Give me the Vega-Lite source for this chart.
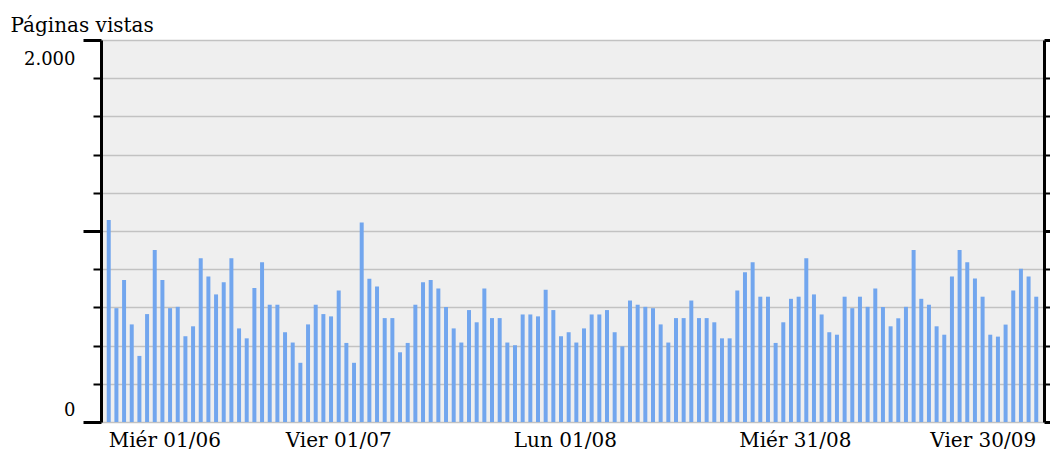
{
  "$schema": "https://vega.github.io/schema/vega-lite/v6.json",
  "autosize": {"type": "none"},
  "padding": {"left": 101, "top": 40, "right": 6, "bottom": 28},
  "width": 943,
  "height": 382,
  "background": "white",
  "config": {"view": {"fill": "#efefef", "stroke": null}},
  "data": {"values": [
    {"d": "2011-06-01", "v": 1057}, {"d": "2011-06-02", "v": 596}, {"d": "2011-06-03", "v": 744}, {"d": "2011-06-04", "v": 511}, {"d": "2011-06-05", "v": 346},
    {"d": "2011-06-06", "v": 565}, {"d": "2011-06-07", "v": 901}, {"d": "2011-06-08", "v": 744}, {"d": "2011-06-09", "v": 596}, {"d": "2011-06-10", "v": 603},
    {"d": "2011-06-11", "v": 449}, {"d": "2011-06-12", "v": 501}, {"d": "2011-06-13", "v": 857}, {"d": "2011-06-14", "v": 762}, {"d": "2011-06-15", "v": 668},
    {"d": "2011-06-16", "v": 732}, {"d": "2011-06-17", "v": 857}, {"d": "2011-06-18", "v": 490}, {"d": "2011-06-19", "v": 438}, {"d": "2011-06-20", "v": 701},
    {"d": "2011-06-21", "v": 837}, {"d": "2011-06-22", "v": 614}, {"d": "2011-06-23", "v": 614}, {"d": "2011-06-24", "v": 470}, {"d": "2011-06-25", "v": 416},
    {"d": "2011-06-26", "v": 310}, {"d": "2011-06-27", "v": 511}, {"d": "2011-06-28", "v": 614}, {"d": "2011-06-29", "v": 565}, {"d": "2011-06-30", "v": 553},
    {"d": "2011-07-01", "v": 689}, {"d": "2011-07-02", "v": 414}, {"d": "2011-07-03", "v": 310}, {"d": "2011-07-04", "v": 1045}, {"d": "2011-07-05", "v": 750},
    {"d": "2011-07-06", "v": 710}, {"d": "2011-07-07", "v": 544}, {"d": "2011-07-08", "v": 544}, {"d": "2011-07-09", "v": 365}, {"d": "2011-07-10", "v": 414},
    {"d": "2011-07-11", "v": 614}, {"d": "2011-07-12", "v": 732}, {"d": "2011-07-13", "v": 743}, {"d": "2011-07-14", "v": 699}, {"d": "2011-07-15", "v": 602},
    {"d": "2011-07-16", "v": 490}, {"d": "2011-07-17", "v": 416}, {"d": "2011-07-18", "v": 586}, {"d": "2011-07-19", "v": 522}, {"d": "2011-07-20", "v": 699},
    {"d": "2011-07-21", "v": 544}, {"d": "2011-07-22", "v": 544}, {"d": "2011-07-23", "v": 416}, {"d": "2011-07-24", "v": 402}, {"d": "2011-07-25", "v": 563},
    {"d": "2011-07-26", "v": 563}, {"d": "2011-07-27", "v": 553}, {"d": "2011-07-28", "v": 692}, {"d": "2011-07-29", "v": 586}, {"d": "2011-07-30", "v": 449},
    {"d": "2011-07-31", "v": 470}, {"d": "2011-08-01", "v": 416}, {"d": "2011-08-02", "v": 490}, {"d": "2011-08-03", "v": 563}, {"d": "2011-08-04", "v": 563},
    {"d": "2011-08-05", "v": 586}, {"d": "2011-08-06", "v": 470}, {"d": "2011-08-07", "v": 396}, {"d": "2011-08-08", "v": 636}, {"d": "2011-08-09", "v": 614},
    {"d": "2011-08-10", "v": 603}, {"d": "2011-08-11", "v": 596}, {"d": "2011-08-12", "v": 511}, {"d": "2011-08-13", "v": 416}, {"d": "2011-08-14", "v": 544},
    {"d": "2011-08-15", "v": 544}, {"d": "2011-08-16", "v": 636}, {"d": "2011-08-17", "v": 544}, {"d": "2011-08-18", "v": 544}, {"d": "2011-08-19", "v": 522},
    {"d": "2011-08-20", "v": 438}, {"d": "2011-08-21", "v": 438}, {"d": "2011-08-22", "v": 689}, {"d": "2011-08-23", "v": 784}, {"d": "2011-08-24", "v": 836},
    {"d": "2011-08-25", "v": 656}, {"d": "2011-08-26", "v": 656}, {"d": "2011-08-27", "v": 414}, {"d": "2011-08-28", "v": 522}, {"d": "2011-08-29", "v": 645},
    {"d": "2011-08-30", "v": 656}, {"d": "2011-08-31", "v": 857}, {"d": "2011-09-01", "v": 668}, {"d": "2011-09-02", "v": 563}, {"d": "2011-09-03", "v": 470},
    {"d": "2011-09-04", "v": 457}, {"d": "2011-09-05", "v": 656}, {"d": "2011-09-06", "v": 596}, {"d": "2011-09-07", "v": 656}, {"d": "2011-09-08", "v": 603},
    {"d": "2011-09-09", "v": 699}, {"d": "2011-09-10", "v": 602}, {"d": "2011-09-11", "v": 501}, {"d": "2011-09-12", "v": 543}, {"d": "2011-09-13", "v": 603},
    {"d": "2011-09-14", "v": 901}, {"d": "2011-09-15", "v": 645}, {"d": "2011-09-16", "v": 614}, {"d": "2011-09-17", "v": 501}, {"d": "2011-09-18", "v": 457},
    {"d": "2011-09-19", "v": 762}, {"d": "2011-09-20", "v": 901}, {"d": "2011-09-21", "v": 836}, {"d": "2011-09-22", "v": 751}, {"d": "2011-09-23", "v": 656},
    {"d": "2011-09-24", "v": 457}, {"d": "2011-09-25", "v": 447}, {"d": "2011-09-26", "v": 510}, {"d": "2011-09-27", "v": 689}, {"d": "2011-09-28", "v": 802},
    {"d": "2011-09-29", "v": 762}, {"d": "2011-09-30", "v": 656}
  ]},
  "layer": [
    {
      "mark": {"type": "bar", "color": "#72a6ee"},
      "encoding": {
        "x": {
          "field": "d", "type": "ordinal",
          "scale": {"paddingInner": 0.48, "paddingOuter": 0.75},
          "axis": {
            "orient": "bottom",
            "title": null,
            "domain": false,
            "ticks": false,
            "grid": false,
            "labelAngle": 0,
            "labelOverlap": false,
            "values": ["2011-06-01", "2011-07-01", "2011-08-01", "2011-08-31", "2011-09-30"],
            "labelExpr": "datum.value == '2011-06-01' ? 'Miér 01/06' : datum.value == '2011-07-01' ? 'Vier 01/07' : datum.value == '2011-08-01' ? 'Lun 01/08' : datum.value == '2011-08-31' ? 'Miér 31/08' : 'Vier 30/09'",
            "labelFont": "DejaVu Serif",
            "labelFontSize": 20,
            "labelColor": "black",
            "labelPadding": 8,
            "labelFlush": 12,
            "labelOffset": {"condition": {"test": "datum.value == '2011-08-01' || datum.value == '2011-08-31'", "value": -11}, "value": 0}
          }
        },
        "y": {
          "field": "v", "type": "quantitative",
          "scale": {"domain": [0, 2000], "nice": false},
          "axis": {
            "orient": "left",
            "values": [0, 200, 400, 600, 800, 1000, 1200, 1400, 1600, 1800, 2000],
            "domainColor": "black",
            "domainWidth": 3,
            "tickColor": "black",
            "tickSize": {"condition": {"test": "datum.value % 1000 === 0", "value": 18}, "value": 8},
            "tickWidth": {"condition": {"test": "datum.value % 1000 === 0", "value": 3}, "value": 2},
            "labelExpr": "datum.value == 2000 ? '2.000' : datum.value == 0 ? '0' : ''",
            "labelFont": "DejaVu Serif",
            "labelFontSize": 18,
            "labelColor": "black",
            "labelPadding": 8,
            "labelOverlap": false,
            "labelOffset": {"condition": {"test": "datum.value == 2000", "value": 19}, "value": -12},
            "grid": true,
            "gridColor": "#c2c2c2",
            "gridWidth": 1.5,
            "title": "Páginas vistas",
            "titleFont": "DejaVu Serif",
            "titleFontSize": 20,
            "titleFontWeight": "normal",
            "titleColor": "black",
            "titleAngle": 0,
            "titleAlign": "left",
            "titleBaseline": "alphabetic",
            "titleX": -91,
            "titleY": -9
          }
        }
      }
    },
    {
      "mark": {"type": "rule", "opacity": 0},
      "encoding": {
        "y": {
          "field": "v", "type": "quantitative",
          "scale": {"domain": [0, 2000], "nice": false},
          "axis": {
            "orient": "right",
            "values": [0, 200, 400, 600, 800, 1000, 1200, 1400, 1600, 1800, 2000],
            "domainColor": "black",
            "domainWidth": 3,
            "tickColor": "black",
            "tickSize": 7,
            "tickWidth": {"condition": {"test": "datum.value % 1000 === 0", "value": 3}, "value": 2},
            "labels": false,
            "grid": false,
            "title": null
          }
        }
      }
    }
  ],
  "resolve": {"axis": {"y": "independent"}}
}
